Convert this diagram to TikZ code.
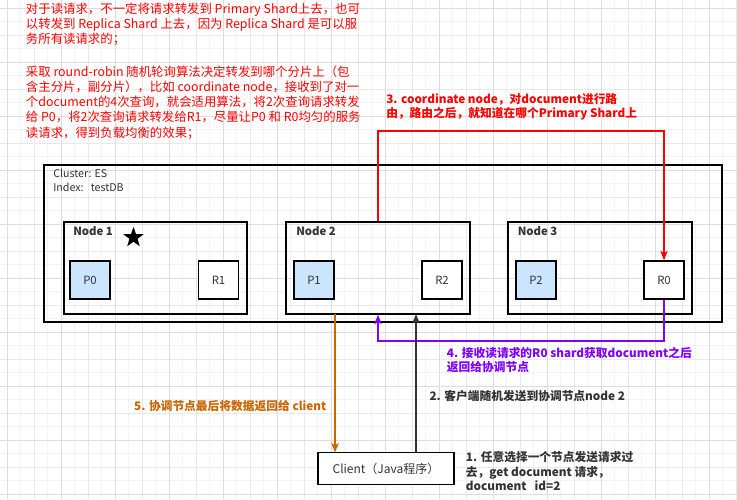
\documentclass[tikz,border=0pt]{standalone}
\usepackage{fontspec}
\setmainfont{Noto Sans CJK SC}
\usetikzlibrary{arrows.meta,shapes.geometric}
\definecolor{gridA}{HTML}{F3F3F3}
\definecolor{gridB}{HTML}{E9E9E9}
\definecolor{gridC}{HTML}{DDDDDD}
\definecolor{shardblue}{HTML}{CCE5FF}
\definecolor{txtgray}{HTML}{333333}
\definecolor{myred}{HTML}{FF0000}
\definecolor{mypurple}{HTML}{7F00FF}
\definecolor{myorange}{HTML}{CC6600}
\begin{document}
\begin{tikzpicture}[x=0.75pt,y=-0.75pt,
  box/.style={draw=black,line width=1.1pt,inner sep=0pt},
  shard/.style={box,minimum width=30pt,minimum height=28.5pt,font=\fontsize{8.5}{10}\selectfont,text=txtgray},
  nodebox/.style={box,minimum width=138pt,minimum height=69pt},
  nlabel/.style={anchor=west,inner sep=0pt,font=\bfseries\fontsize{8.5}{10}\selectfont,text=txtgray},
  plain/.style={anchor=west,inner sep=0pt,font=\fontsize{8}{10}\selectfont,text=txtgray},
  note/.style={inner sep=0pt,align=left,font=\bfseries\fontsize{8.8}{10.6}\selectfont},
  tip/.style={-{Stealth[length=7pt,width=5.5pt,inset=1.6pt]}},
  conn/.style={line width=1.1pt,tip}
]
\useasboundingbox (0,0) rectangle (737,499);
\fill[white] (0,0) rectangle (737,499);
% grid
\foreach \i in {0,...,54} {
  \draw[gridA,line width=0.75pt] ({7.3+13.5*\i},0) -- ({7.3+13.5*\i},499);
  \draw[gridA,line width=0.75pt] (0,{8.3+13.5*\i}) -- (737,{8.3+13.5*\i});
}
\foreach \i in {0,...,27} {
  \draw[gridB,line width=0.75pt] ({7.3+27*\i},0) -- ({7.3+27*\i},499);
  \draw[gridB,line width=0.75pt] (0,{8.3+27*\i}) -- (737,{8.3+27*\i});
}
\foreach \i in {0,...,13} {
  \draw[gridC,line width=0.75pt] ({7.3+54*\i},0) -- ({7.3+54*\i},499);
  \draw[gridC,line width=0.75pt] (0,{8.3+54*\i}) -- (737,{8.3+54*\i});
}

% top red notes
\node[anchor=north west,inner sep=0pt,align=left,text=myred,font=\fontsize{9.3}{11.4}\selectfont] (notea) at (25.7,2.5)
 {对于读请求，不一定将请求转发到 Primary Shard上去，也可\\以转发到 Replica Shard 上去，因为 Replica Shard 是可以服\\务所有读请求的；};
\node[anchor=north west,inner sep=0pt,align=left,text=myred,font=\fontsize{9.3}{11.4}\selectfont] (noteb) at (25.7,65.5)
 {采取 round-robin 随机轮询算法决定转发到哪个分片上（包\\含主分片，副分片），比如 coordinate node，接收到了对一\\个document的4次查询，就会适用算法，将2次查询请求转发\\给 P0，将2次查询请求转发给R1，尽量让P0 和 R0均匀的服务\\读请求，得到负载均衡的效果；};

% cluster
\node[box,minimum width=508.5pt,minimum height=117.75pt] (cluster) at (383,243.5) {};
\node[plain] (cl1) at (53,173) {Cluster: ES};
\node[plain] (cl2) at (53,187) {Index:\ \ \ testDB};

% nodes
\node[nodebox,minimum width=137.25pt] (n1) at (155.5,268) {};
\node[nodebox] (n2) at (378,268) {};
\node[nodebox] (n3) at (600,268) {};
\node[nlabel] (n1l) at (73,231) {Node 1};
\node[nlabel] (n2l) at (296,231) {Node 2};
\node[nlabel] (n3l) at (517.5,231) {Node 3};
\node[star,star points=5,star point ratio=2.5,fill=black,inner sep=0pt,minimum size=16pt] (star) at (133.5,237.5) {};

% shards
\node[shard,fill=shardblue] (p0) at (90,280) {P0};
\node[shard,fill=white] (r1) at (218.5,280) {R1};
\node[shard,fill=shardblue] (p1) at (314,280) {P1};
\node[shard,fill=white] (r2) at (442,280) {R2};
\node[shard,fill=shardblue] (p2) at (536,280) {P2};
\node[shard,fill=white] (r0) at (664,280) {R0};

% client
\node[box,fill=white,minimum width=102pt,minimum height=24pt,font=\fontsize{9}{11}\selectfont,text=txtgray] (client) at (386,468.5) {Client（Java程序）};

% connectors
\coordinate (redtop) at (378,131);
\draw[conn,myred] (n2.north) -- (redtop) -| (r0.north);
\coordinate (purbot) at (664,341);
\draw[conn,mypurple] (r0.south) -- (purbot) -| (n2.south);
\coordinate (blkbot) at (416,452.5);
\coordinate (blktop) at (416,314);
\draw[conn,txtgray] (blkbot) -- (blktop);
\coordinate (orgtop) at (335,314);
\coordinate (orgbot) at (335,452.5);
\draw[conn,myorange] (orgtop) -- (orgbot);

% labels
\node[note,anchor=west,text=myred] (lab3) at (386,107) {3. coordinate node，对document进行路\\由，路由之后，就知道在哪个Primary Shard上};
\node[note,anchor=west,text=mypurple] (lab4) at (446.7,360) {4. 接收读请求的R0 shard获取document之后\\返回给协调节点};
\node[note,anchor=west,text=txtgray] (lab2) at (429.3,396) {2. 客户端随机发送到协调节点node 2};
\node[note,anchor=east,text=myorange] (lab5) at (326.7,406) {5. 协调节点最后将数据返回给 client};
\node[note,anchor=west,text=txtgray] (lab1) at (465.7,471) {1. 任意选择一个节点发送请求过\\去，get document 请求，\\document\ \ \ id=2};
\end{tikzpicture}
\end{document}
